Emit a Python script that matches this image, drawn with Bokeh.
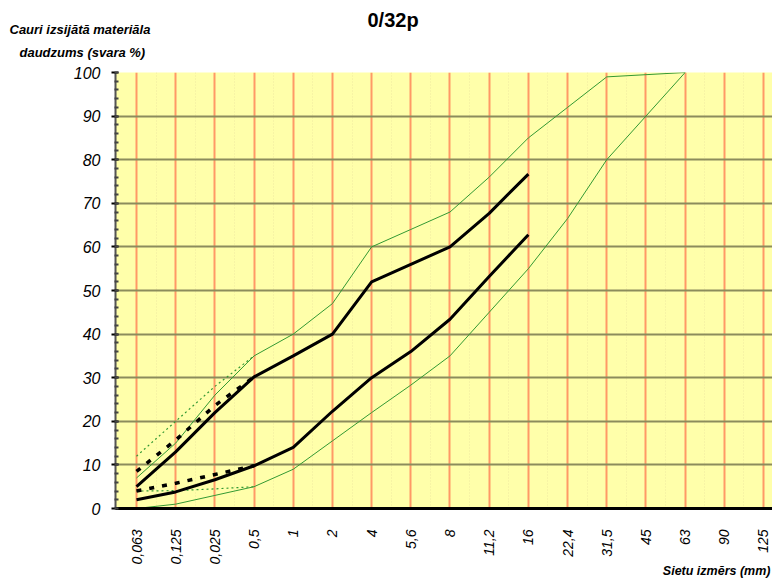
import math
from bokeh.plotting import figure
from bokeh.models import Range1d, FixedTicker, Title
from bokeh.embed import file_html
from bokeh.resources import INLINE

# ---- data ----
categories = ["0,063", "0,125", "0,025", "0,5", "1", "2", "4", "5,6", "8",
              "11,2", "16", "22,4", "31,5", "45", "63", "90", "125"]
y_ticks = [0, 10, 20, 30, 40, 50, 60, 70, 80, 90, 100]

green_upper = [7, 15, 26, 35, 40, 47, 60, 64, 68, 76, 85, 92, 99, 99.5, 100]
green_lower = [0, 1, 3, 5, 9, 15.5, 22, 28.3, 35, 45, 55, 66.5, 80, 90, 100]
green_dot_upper = [12, 20, 28, 35]
green_dot_lower = [4, 4.1, 4.5, 5]
black_upper = [5, 13, 22, 30.2, 35, 40, 52, 56, 60, 67.7, 76.7]
black_lower = [2, 3.8, 6.6, 9.8, 14, 22.3, 30, 36, 43.4, 53.2, 62.8]
black_dash_upper = [8.5, 15.7, 23.6, 30.2]
black_dash_lower = [4, 5.8, 7.8, 9.8]

FONT = "Liberation Sans"

p = figure(width=772, height=583, output_backend="svg", toolbar_location=None,
           x_range=Range1d(-0.536, 16.23), y_range=Range1d(0, 100),
           min_border_left=115, min_border_top=72, min_border_bottom=75,
           min_border_right=0)
p.background_fill_color = "#FFFFAA"
p.border_fill_color = "white"
p.outline_line_color = None

# titles (stacked above the frame: first added is nearest the frame)
p.title.text = ""
p.title.visible = False
p.add_layout(Title(text="daudzums (svara %)", align="left", offset=-96,
                   text_font=FONT, text_font_size="13px", text_font_style="bold italic",
                   text_color="black", standoff=25), "above")
p.add_layout(Title(text="Cauri izsijātā materiāla", align="left", offset=-106,
                   text_font=FONT, text_font_size="13px", text_font_style="bold italic",
                   text_color="black", standoff=-12), "above")
p.add_layout(Title(text="0/32p", align="left", offset=252,
                   text_font=FONT, text_font_size="20px", text_font_style="bold",
                   text_color="black", standoff=-11), "above")
p.add_layout(Title(text="Sietu izmērs (mm)", align="right", offset=2,
                   text_font=FONT, text_font_size="12.5px", text_font_style="bold italic",
                   text_color="black", standoff=-12), "below")

xt = list(range(len(categories)))
p.xaxis.ticker = FixedTicker(ticks=xt, minor_ticks=[i + 0.5 for i in range(-1, len(categories))])
p.xaxis.major_label_overrides = {i: c for i, c in enumerate(categories)}
p.xaxis.major_label_orientation = math.pi / 2
p.xaxis.major_label_text_font = FONT
p.xaxis.major_label_text_font_style = "italic"
p.xaxis.major_label_text_font_size = "14px"
p.xaxis.major_label_text_color = "black"
p.xaxis.major_label_standoff = 15
p.xaxis.major_tick_line_color = None
p.xaxis.minor_tick_line_color = None
p.xaxis.axis_line_color = "black"
p.xaxis.axis_line_width = 3

p.yaxis.ticker = FixedTicker(ticks=y_ticks, minor_ticks=list(range(0, 101, 2)))
p.yaxis.major_label_text_font = FONT
p.yaxis.major_label_text_font_style = "italic"
p.yaxis.major_label_text_font_size = "16px"
p.yaxis.major_label_text_color = "black"
p.yaxis.major_label_standoff = 11
p.yaxis.axis_line_color = "#555555"
p.yaxis.axis_line_width = 2
p.yaxis.major_tick_line_color = "black"
p.yaxis.major_tick_line_width = 2
p.yaxis.major_tick_in = 3
p.yaxis.major_tick_out = 4
p.yaxis.minor_tick_line_color = "#444444"
p.yaxis.minor_tick_line_width = 2
p.yaxis.minor_tick_in = 3
p.yaxis.minor_tick_out = 1

p.xgrid.grid_line_color = "#FF9966"
p.xgrid.grid_line_width = 2
p.xgrid.minor_grid_line_color = "#EEE8A0"
p.xgrid.minor_grid_line_dash = "1 2"
p.ygrid.grid_line_color = "#8C8C5C"
p.ygrid.grid_line_width = 2

def xs(vals):
    return list(range(len(vals)))

p.line(xs(green_upper), green_upper, line_color="#339933", line_width=1)
p.line(xs(green_lower), green_lower, line_color="#339933", line_width=1)
p.line(xs(green_dot_upper), green_dot_upper, line_color="#339933", line_width=1.2, line_dash="2 3")
p.line(xs(green_dot_lower), green_dot_lower, line_color="#339933", line_width=1.2, line_dash="2 3")
p.line(xs(black_dash_upper), black_dash_upper, line_color="black", line_width=3.5, line_dash="5 8")
p.line(xs(black_dash_lower), black_dash_lower, line_color="black", line_width=3.5, line_dash="5 8")
p.line(xs(black_upper), black_upper, line_color="black", line_width=3)
p.line(xs(black_lower), black_lower, line_color="black", line_width=3)

open("out.html", "w").write(file_html(p, INLINE))
